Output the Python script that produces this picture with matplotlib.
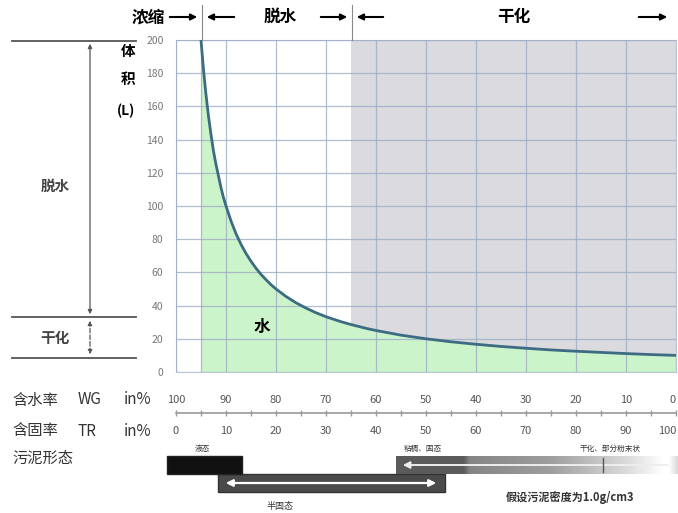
import matplotlib.pyplot as plt
import numpy as np
from matplotlib.patches import Rectangle

plt.rcParams['font.family'] = ['Noto Sans CJK SC', 'DejaVu Sans']

# water content WG (%) and sludge volume (L)
wg = [95, 94.5, 94, 93.5, 93, 92.5, 92, 91.5, 91, 90.5, 90, 89, 88, 87, 86, 85, 84, 83, 82,
      81, 80, 78, 76, 74, 72, 70, 67, 65, 62, 60, 55, 50, 45, 40, 35, 30, 25, 20, 15, 10, 5, 0]
volume = [200, 182, 167, 154, 143, 133, 125, 118, 111, 105, 100, 91, 83.3, 76.9, 71.4, 66.7,
          62.5, 58.8, 55.6, 52.6, 50, 45.5, 41.7, 38.5, 35.7, 33.3, 30.3, 28.6, 26.3, 25,
          22.2, 20, 18.2, 16.7, 15.4, 14.3, 13.3, 12.5, 11.8, 11.1, 10.5, 10]

y_ticks = [0, 20, 40, 60, 80, 100, 120, 140, 160, 180, 200]
wg_labels = [100, 90, 80, 70, 60, 50, 40, 30, 20, 10, 0]
tr_labels = [0, 10, 20, 30, 40, 50, 60, 70, 80, 90, 100]

thicken_end = 95   # WG where thickening stops
dewater_end = 65   # WG where drying starts

# sludge states on the TR axis
state_names = ['液态', '半固态', '粘稠、固态']
state_start = [-1.8, 8.4, 44.0]
state_end = [13.2, 53.8, 100.4]

fig = plt.figure(figsize=(6.78, 5.13), dpi=100)
W, H = 678, 513

# main chart
ax = fig.add_axes([176 / W, 1 - 372 / H, 500 / W, 332 / H])
ax.set_xlim(100, 0)
ax.set_ylim(0, 200)
ax.axvspan(dewater_end, 0, color='#dadadf', zorder=0, lw=0)
ax.fill_between(wg, volume, 0, color='#ccf4cb', zorder=1, lw=0)
ax.plot(wg, volume, color='#3d6b82', lw=2, zorder=4, solid_joinstyle='round')
ax.set_xticks(wg_labels)
ax.set_yticks(y_ticks)
ax.grid(True, color='#9dadc4', lw=0.9, alpha=0.8)
ax.set_axisbelow(False)
ax.axvline(thicken_end, color='#9dadc4', lw=0.9, alpha=0.8, zorder=3)
ax.tick_params(axis='x', length=0, labelbottom=False)
ax.tick_params(axis='y', length=0, pad=9, labelsize=7.5, labelcolor='#777777')
for s in ax.spines.values():
    s.set_color('#b8c6d8')
ax.text(82.8, 27, '水', fontsize=12, fontweight='bold', ha='center', va='center', zorder=5)

# overlay in pixel units for the annotations around the chart
ov = fig.add_axes([0, 0, 1, 1], zorder=5)
ov.set_xlim(0, W)
ov.set_ylim(H, 0)
ov.axis('off')

# header with process stages
for x in (202, 352):
    ov.plot([x, x], [5, 40], color='#888888', lw=0.8)
hdr = dict(fontsize=12, fontweight='bold', ha='center', va='center')
ov.text(148, 17, '浓缩', **hdr)
ov.text(280, 17, '脱水', **hdr)
ov.text(514, 17, '干化', **hdr)
arr = dict(arrowstyle='-|>', color='black', lw=1.5, mutation_scale=9)
for x0, x1 in [(167, 200), (237, 204), (318, 350), (386, 354), (636, 670)]:
    ov.annotate('', xy=(x1, 17), xytext=(x0, 17), arrowprops=arr)

# left side ranges
for y in (41, 317, 358):
    ov.plot([12, 136], [y, y], color='#555555', lw=1.3)
ov.annotate('', xy=(90, 41), xytext=(90, 317),
            arrowprops=dict(arrowstyle='<|-|>', color='#555555', lw=0.9, mutation_scale=6))
ov.annotate('', xy=(90, 318), xytext=(90, 357),
            arrowprops=dict(arrowstyle='<|-|>', color='#555555', lw=0.9, ls='--', mutation_scale=6))
side = dict(fontsize=10.5, fontweight='bold', ha='center', va='center', color='#444444')
ov.text(55, 186, '脱水', **side)
ov.text(55, 338, '干化', **side)
ov.text(128, 51, '体', fontsize=10.5, fontweight='bold', ha='center', va='center')
ov.text(128, 79, '积', fontsize=10.5, fontweight='bold', ha='center', va='center')
ov.text(126, 111, '(L)', fontsize=10, fontweight='bold', ha='center', va='center')

# bottom labels
lab = dict(fontsize=11, va='center', color='#333333')
ov.text(12, 400, '含水率', **lab)
ov.text(78, 400, 'WG', **lab)
ov.text(124, 400, 'in%', **lab)
ov.text(12, 431, '含固率', **lab)
ov.text(78, 431, 'TR', **lab)
ov.text(124, 431, 'in%', **lab)
ov.text(12, 458, '污泥形态', **lab)
ov.text(570, 498, '假设污泥密度为1.0g/cm3', fontsize=8, fontweight='bold',
        ha='center', va='center', color='#333333')

# bottom scale and sludge state bars, x in TR %
bx = fig.add_axes([176 / W, 0, 500 / W, 133 / H], zorder=4)
bx.set_xlim(0, 100)
bx.set_ylim(H, 380)
bx.axis('off')

bx.plot([0, 100], [413, 413], color='#9a9a9a', lw=1.2, clip_on=False)
bx.plot(np.arange(0, 101, 5), [413] * 21, '|', color='#9a9a9a', ms=4, clip_on=False)
num = dict(fontsize=8, va='center', color='#555555')
for v in wg_labels:
    bx.text(100 - v, 400, str(v), ha='right' if v == 0 else 'center', **num)
for v in tr_labels:
    bx.text(v, 431, str(v), ha='right' if v == 100 else 'center', **num)

# liquid bar
bx.add_patch(Rectangle((state_start[0], 456), state_end[0] - state_start[0], 18,
                       facecolor='#111111', edgecolor='#222222', clip_on=False, zorder=3))
# semi-solid bar
bx.add_patch(Rectangle((state_start[1], 474), state_end[1] - state_start[1], 18,
                       facecolor='#4a4a4a', edgecolor='#333333', clip_on=False, zorder=2))
# solid bar with fading gradient
pos = np.linspace(0, 1, 300)
shade = np.interp(pos, [0, 0.24, 0.26, 0.55, 0.82, 0.95, 0.97, 1.0],
                  [0.36, 0.36, 0.52, 0.62, 0.86, 1.0, 1.0, 0.85])
grad = np.repeat(shade[None, :, None], 3, axis=2)
bx.imshow(grad, extent=[state_start[2], state_end[2], 474, 456], aspect='auto',
          zorder=2, clip_on=False, interpolation='bilinear')
bx.set_xlim(0, 100)
bx.set_ylim(H, 380)

warr = dict(arrowstyle='<|-|>', color='white', lw=1.6, mutation_scale=10)
bx.annotate('', xy=(state_start[0] + 0.8, 465), xytext=(state_end[0] - 0.8, 465),
            arrowprops=warr, zorder=4)
bx.annotate('', xy=(state_start[1] + 1.0, 483), xytext=(state_end[1] - 1.2, 483),
            arrowprops=warr, zorder=4)
bx.annotate('', xy=(state_start[2] + 0.8, 465), xytext=(99, 465),
            arrowprops=dict(arrowstyle='-|>', color='#eeeeee', lw=1.4, mutation_scale=10), zorder=4)
bx.plot([85.4, 85.4], [458, 472], color='#555555', lw=1, zorder=4)

small = dict(fontsize=5.5, ha='center', va='center', color='#333333')
bx.text(5.2, 449, state_names[0], **small)
bx.text(20.8, 507, state_names[1], fontsize=6.5, ha='center', va='center', color='#333333')
bx.text(49.4, 449, state_names[2], **small)
bx.text(86.8, 449, '干化、部分粉末状', **small)

fig.savefig('out.png', dpi=100)
